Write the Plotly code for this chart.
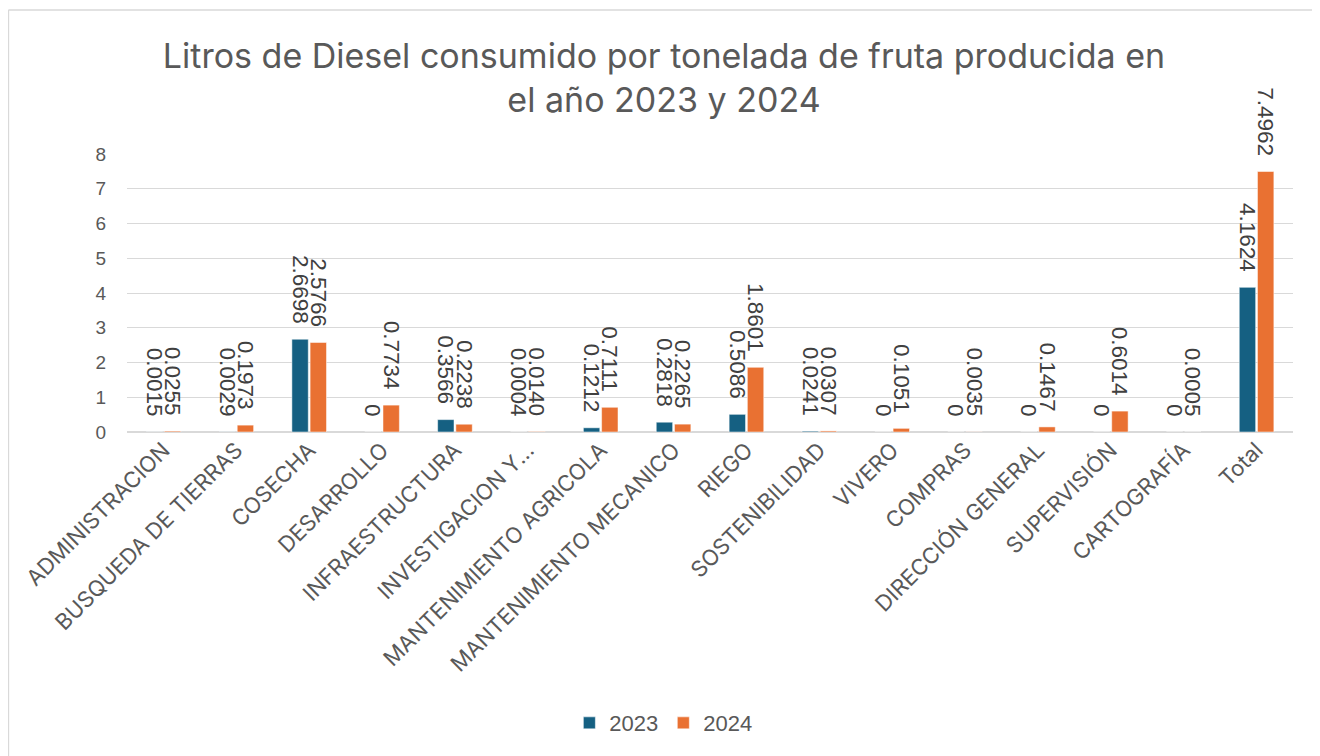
import plotly.graph_objects as go

categories = ["ADMINISTRACION", "BUSQUEDA DE TIERRAS", "COSECHA", "DESARROLLO",
              "INFRAESTRUCTURA", "INVESTIGACION Y...", "MANTENIMIENTO AGRICOLA",
              "MANTENIMIENTO MECANICO", "RIEGO", "SOSTENIBILIDAD", "VIVERO",
              "COMPRAS", "DIRECCIÓN GENERAL", "SUPERVISIÓN", "CARTOGRAFÍA", "Total"]
values_2023 = [0.0015, 0.0029, 2.6698, 0, 0.3566, 0.0004, 0.1212, 0.2818, 0.5086,
               0.0241, 0, 0, 0, 0, 0, 4.1624]
values_2024 = [0.0255, 0.1973, 2.5766, 0.7734, 0.2238, 0.0140, 0.7111, 0.2265, 1.8601,
               0.0307, 0.1051, 0.0035, 0.1467, 0.6014, 0.0005, 7.4962]
y_ticks = [0, 1, 2, 3, 4, 5, 6, 7, 8]

def fmt(v):
    s = "0" if v == 0 else f"{v:.4f}"
    return s + "\u00a0\u00a0"

NUMFONT = "Liberation Sans"
TXTFONT = "Inter"
fig = go.Figure()
for name, vals, col in [("2023", values_2023, "#156082"), ("2024", values_2024, "#E97132")]:
    fig.add_trace(go.Bar(name=name, x=categories, y=vals,
                         marker=dict(color=col, line=dict(color="white", width=0.5)),
                         text=[fmt(v) for v in vals], textposition="outside",
                         textangle=90, constraintext="none", cliponaxis=False,
                         textfont=dict(size=22.5, color="#404040", family=NUMFONT)))

fig.update_layout(
    width=1312, height=748,
    paper_bgcolor="white", plot_bgcolor="white",
    margin=dict(l=119, r=27, t=146, b=324),
    title=dict(text="Litros de Diesel consumido por tonelada de fruta producida en<br>el año 2023 y 2024",
               x=0.500, xanchor="center", y=0.920, yanchor="middle",
               font=dict(size=34, color="#595959", family=TXTFONT)),
    barmode="group", bargap=0.5, bargroupgap=0.1,
    font=dict(family=TXTFONT, color="#595959"),
    legend=dict(orientation="h", x=0.46, xanchor="center", y=-1.047, yanchor="middle",
                font=dict(size=22, color="#595959", family=NUMFONT), traceorder="normal"),
    showlegend=True,
    shapes=[
        dict(type="line", xref="paper", yref="paper", x0=-0.1017, x1=1.05,
             y0=1.518, y1=1.518, line=dict(color="#d9d9d9", width=1.5), layer="below"),
        dict(type="line", xref="paper", yref="paper", x0=-0.1017, x1=-0.1017,
             y0=-1.25, y1=1.518, line=dict(color="#d9d9d9", width=1.5), layer="below"),
    ],
)
fig.update_xaxes(tickangle=-45, tickfont=dict(size=22, color="#595959", family=TXTFONT),
                 showgrid=False, showline=False, ticks="")
fig.update_yaxes(range=[0, 8], tickvals=y_ticks,
                 tickfont=dict(size=19, color="#595959", family=NUMFONT),
                 gridcolor="#d9d9d9", gridwidth=1, zeroline=True, zerolinecolor="#d9d9d9",
                 showline=False, ticks="", ticklabelstandoff=20)

fig.write_html("out.html")
